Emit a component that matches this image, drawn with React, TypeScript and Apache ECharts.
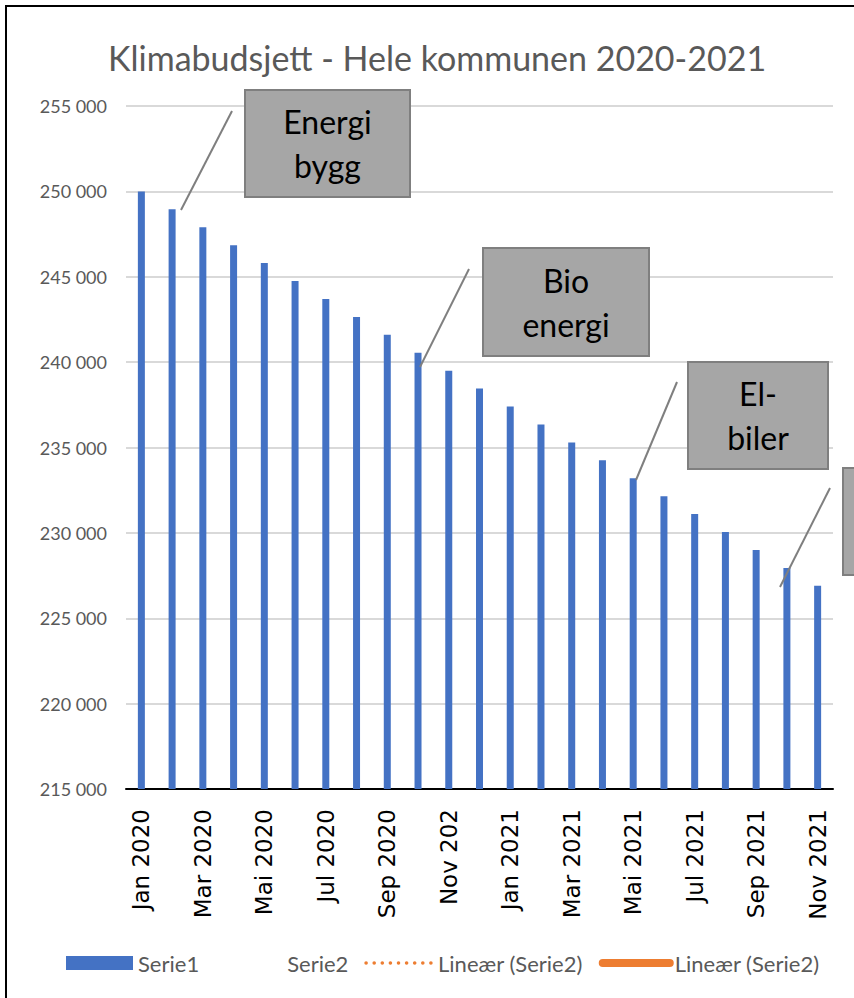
import React, { useEffect, useRef } from "react";
import * as echarts from "echarts";

const categories = [
  "Jan 2020", "Feb 2020", "Mar 2020", "Apr 2020", "Mai 2020", "Jun 2020",
  "Jul 2020", "Aug 2020", "Sep 2020", "Okt 2020", "Nov 202", "Des 2020",
  "Jan 2021", "Feb 2021", "Mar 2021", "Apr 2021", "Mai 2021", "Jun 2021",
  "Jul 2021", "Aug 2021", "Sep 2021", "Okt 2021", "Nov 2021",
];

const serie1 = [
  250000, 248950, 247900, 246850, 245800, 244750, 243700, 242650, 241600,
  240550, 239500, 238450, 237400, 236350, 235300, 234250, 233200, 232150,
  231100, 230050, 229000, 227950, 226900,
];

const serie2: number[] = [];
const trendDotted: number[] = [];
const trendSolid: number[] = [];

const yMin = 215000;
const yMax = 255000;
const yStep = 5000;

const titleText = "Klimabudsjett - Hele kommunen 2020-2021";

const annotations = [
  { text: "Energi\nbygg", box: [245, 90, 165, 107], line: [181, 210, 232, 111] },
  { text: "Bio\nenergi", box: [483, 248, 166, 108], line: [420, 367, 469, 269] },
  { text: "El-\nbiler", box: [688, 362, 140, 107], line: [636, 480, 677, 382] },
  { text: "", box: [843, 468, 165, 107], line: [780, 587, 830, 488] },
];

const fmt = (v: number) => {
  const s = String(Math.round(v));
  return s.replace(/\B(?=(\d{3})+(?!\d))/g, " ");
};

const ORANGE = "#ED7D31";

export default function App() {
  const ref = useRef<HTMLDivElement>(null);
  useEffect(() => {
    if (!ref.current) return;
    const chart = echarts.init(ref.current, null, { renderer: "svg" });
    const graphics: any[] = [
      {
        type: "rect",
        shape: { x: 6, y: 6, width: 900, height: 1000 },
        style: { fill: "none", stroke: "#000", lineWidth: 2 },
        z: 100,
      },
    ];
    annotations.forEach((a) => {
      graphics.push({
        type: "line",
        shape: { x1: a.line[0], y1: a.line[1], x2: a.line[2], y2: a.line[3] },
        style: { stroke: "#7f7f7f", lineWidth: 2 },
        z: 50,
      });
      graphics.push({
        type: "rect",
        shape: { x: a.box[0], y: a.box[1], width: a.box[2], height: a.box[3] },
        style: { fill: "#a6a6a6", stroke: "#7f7f7f", lineWidth: 2 },
        z: 50,
      });
      if (a.text) {
        graphics.push({
          type: "text",
          x: a.box[0] + a.box[2] / 2,
          y: a.box[1] + a.box[3] / 2,
          style: {
            text: a.text,
            fontFamily: "Lato",
            fontSize: 32,
            lineHeight: 44,
            fill: "#000",
            align: "center",
            verticalAlign: "middle",
          },
          z: 51,
        });
      }
    });

    chart.setOption({
      animation: false,
      backgroundColor: "#fff",
      title: {
        text: titleText,
        left: 108,
        top: 40,
        padding: 0,
        textStyle: {
          fontFamily: "Lato",
          fontSize: 34,
          fontWeight: "normal",
          color: "#595959",
        },
      },
      grid: { left: 126, right: 21, top: 106, bottom: 209, containLabel: false },
      legend: {
        left: 66,
        top: 952,
        padding: 0,
        itemWidth: 67,
        itemHeight: 14,
        itemGap: 16,
        formatter: (n: string) => n.trim(),
        textStyle: { fontFamily: "Lato", fontSize: 22, color: "#595959" },
        data: [
          { name: "Serie1", icon: "rect" },
          {
            name: "Serie2",
            itemStyle: { opacity: 0 },
            lineStyle: { opacity: 0, width: 0 },
          },
          {
            name: "Lineær (Serie2)",
            itemStyle: { opacity: 0 },
            lineStyle: { color: ORANGE, width: 3.5, type: [0.1, 8], cap: "round", opacity: 1 },
          },
          {
            name: "Lineær (Serie2) ",
            itemStyle: { opacity: 0 },
            lineStyle: { color: ORANGE, width: 8, type: "solid", cap: "round", opacity: 1 },
          },
        ],
      },
      xAxis: {
        type: "category",
        data: categories,
        axisLine: { lineStyle: { color: "#000", width: 2 } },
        axisTick: { show: false },
        axisLabel: {
          interval: 1,
          rotate: 90,
          margin: 20,
          fontFamily: "DejaVu Sans",
          fontSize: 23,
          color: "#000",
        },
      },
      yAxis: {
        type: "value",
        min: yMin,
        max: yMax,
        interval: yStep,
        axisLine: { show: false },
        axisTick: { show: false },
        splitLine: { lineStyle: { color: "#d9d9d9", width: 2 } },
        axisLabel: {
          margin: 19,
          fontFamily: "Lato",
          fontSize: 18,
          color: "#595959",
          formatter: fmt,
        },
      },
      series: [
        {
          name: "Serie1",
          type: "bar",
          data: serie1,
          barWidth: 7,
          itemStyle: { color: "#4472C4" },
        },
        {
          name: "Serie2",
          type: "line",
          data: serie2,
          symbol: "none",
          itemStyle: { color: "#A5A5A5" },
          lineStyle: { opacity: 0 },
        },
        {
          name: "Lineær (Serie2)",
          type: "line",
          data: trendDotted,
          symbol: "none",
          itemStyle: { color: ORANGE },
          lineStyle: { color: ORANGE, width: 3.5, type: [0.1, 8], cap: "round" },
        },
        {
          name: "Lineær (Serie2) ",
          type: "line",
          data: trendSolid,
          symbol: "none",
          itemStyle: { color: ORANGE },
          lineStyle: { color: ORANGE, width: 8, cap: "round" },
        },
      ],
      graphic: graphics,
    });
    return () => chart.dispose();
  }, []);
  return (
    <div
      ref={ref}
      style={{ position: "absolute", left: 0, top: 0, width: 854, height: 998 }}
    />
  );
}
